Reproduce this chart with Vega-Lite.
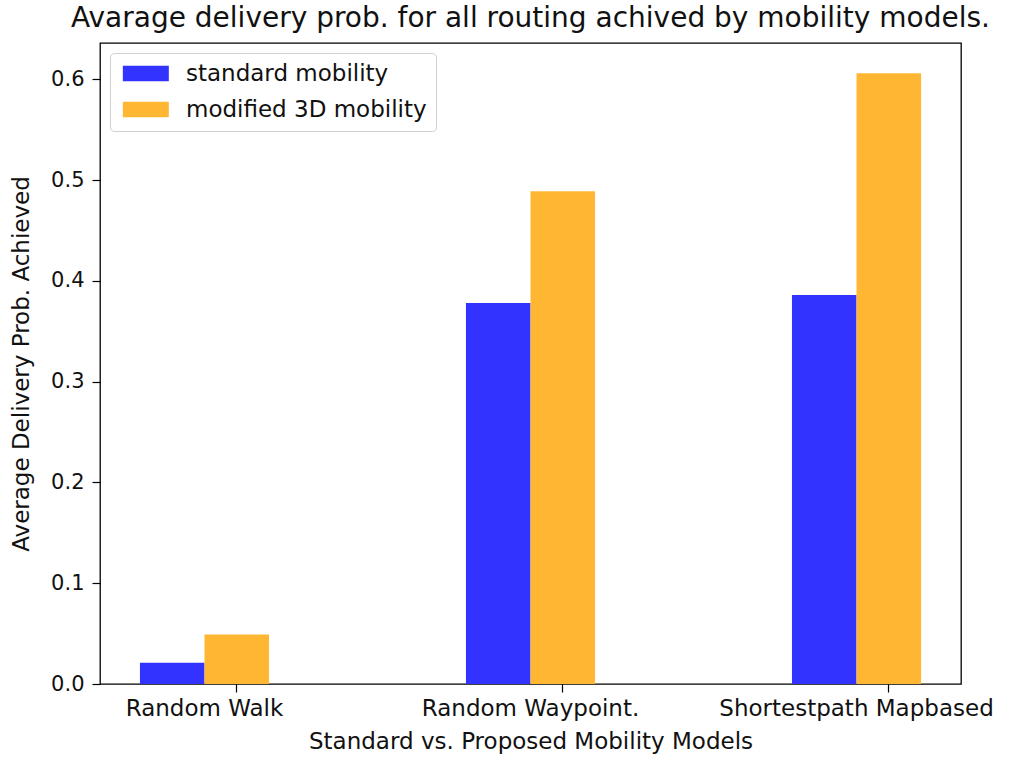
{
  "$schema": "https://vega.github.io/schema/vega-lite/v6.json",
  "width": 861,
  "height": 641,
  "autosize": "none",
  "padding": {"left": 100, "top": 43, "right": 70, "bottom": 73},
  "background": "white",
  "config": {
    "font": "DejaVu Sans",
    "view": {"stroke": "black", "strokeWidth": 1.3},
    "axis": {"grid": false, "domain": false, "tickColor": "black", "labelColor": "#111", "titleColor": "#111", "labelFont": "DejaVu Sans", "titleFont": "DejaVu Sans", "titleFontWeight": "normal", "labelFontSize": 22, "titleFontSize": 22, "tickSize": 8, "tickWidth": 1.2, "labelLimit": 0}
  },
  "title": {"text": "Avarage delivery prob. for all routing achived by mobility models.", "fontSize": 28, "fontWeight": "normal", "font": "DejaVu Sans", "color": "#111", "anchor": "middle", "offset": 10},
  "data": {"values": [
    {"model": "Random Walk", "mobility": "standard mobility", "prob": 0.021},
    {"model": "Random Walk", "mobility": "modified 3D mobility", "prob": 0.049},
    {"model": "Random Waypoint.", "mobility": "standard mobility", "prob": 0.378},
    {"model": "Random Waypoint.", "mobility": "modified 3D mobility", "prob": 0.489},
    {"model": "Shortestpath Mapbased", "mobility": "standard mobility", "prob": 0.386},
    {"model": "Shortestpath Mapbased", "mobility": "modified 3D mobility", "prob": 0.606}
  ]},
  "mark": {"type": "bar"},
  "encoding": {
    "x": {"field": "model", "type": "nominal", "sort": null,
      "scale": {"paddingInner": 0.604, "paddingOuter": 0.1225},
      "axis": {"title": "Standard vs. Proposed Mobility Models", "labelAngle": 0, "bandPosition": 0.75, "labelPadding": 5, "titlePadding": 10, "labelFontSize": 23, "titleFontSize": 23}},
    "xOffset": {"field": "mobility", "type": "nominal", "sort": ["standard mobility", "modified 3D mobility"], "scale": {"paddingInner": 0, "paddingOuter": 0}},
    "y": {"field": "prob", "type": "quantitative",
      "scale": {"domain": [0, 0.636], "nice": false, "zero": true},
      "axis": {"title": "Average Delivery Prob. Achieved", "values": [0, 0.1, 0.2, 0.3, 0.4, 0.5, 0.6], "format": ".1f", "labelPadding": 8, "titleX": -67, "labelFontSize": 21, "titleFontSize": 23}},
    "color": {"field": "mobility", "type": "nominal",
      "scale": {"domain": ["standard mobility", "modified 3D mobility"], "range": ["#3333ff", "#ffb733"]},
      "legend": {"title": null, "orient": "top-left", "offset": 10, "padding": 9, "fillColor": "white", "strokeColor": "#d0d0d0", "cornerRadius": 4, "labelFontSize": 23, "labelFont": "DejaVu Sans", "labelColor": "#111", "labelLimit": 0, "symbolType": "M-1,-1H5V1H-1Z", "symbolSize": 235, "symbolStrokeWidth": 0, "symbolOpacity": 1, "rowPadding": 12, "labelOffset": 44}
    }
  }
}
